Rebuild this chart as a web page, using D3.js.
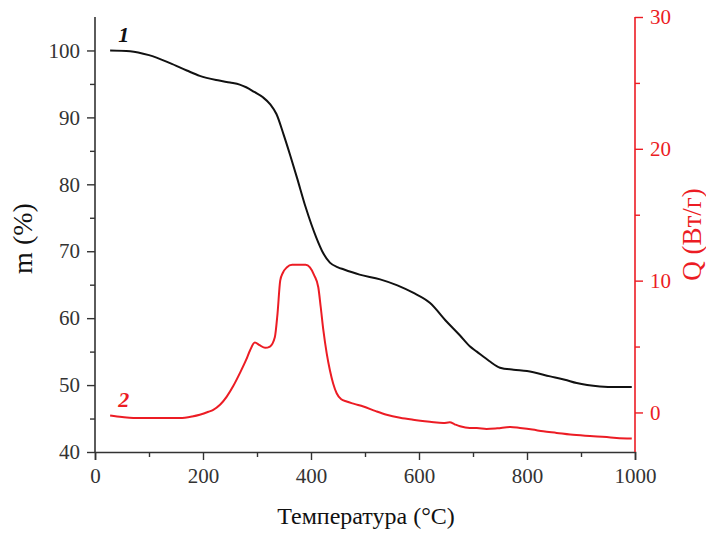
<!DOCTYPE html>
<html>
<head>
<meta charset="utf-8">
<script src="https://cdn.jsdelivr.net/npm/d3@7"></script>
<style>
  body { margin: 0; background: #fff; }
  text { font-family: "Liberation Serif", "Times New Roman", serif; }
</style>
</head>
<body>
<script>
// ---- data ----
var massT = [28, 65, 100, 139, 170, 194, 230, 250, 268, 280, 295, 311, 325, 336, 349, 362, 374, 390, 410, 422, 435, 450, 460, 490, 528, 560, 589, 620, 651, 676, 694, 707, 730, 750, 775, 800, 843, 870, 892, 935, 965, 994];
var massV = [100, 99.9, 99.3, 98.1, 97.0, 96.2, 95.5, 95.2, 94.9, 94.5, 93.8, 93.0, 91.9, 90.5, 87.5, 84.2, 81.0, 76.6, 72.0, 69.8, 68.3, 67.6, 67.3, 66.5, 65.8, 64.9, 63.8, 62.3, 59.5, 57.4, 55.8, 55.0, 53.6, 52.6, 52.3, 52.1, 51.3, 50.8, 50.3, 49.8, 49.7, 49.7];

var heatT = [28, 50, 71, 110, 157, 180, 194, 210, 219, 232, 244, 256, 268.5, 280, 287, 296, 305, 315, 324, 333, 338, 343, 348, 355, 365, 376.5, 390, 398, 406, 413.5, 418, 423, 429, 435, 441, 447.5, 456, 466, 480, 497, 520, 540, 565, 589, 620, 645, 657, 666, 676, 694, 707, 725, 745, 769, 787, 810, 830, 855, 880, 923, 966, 994];
var heatV = [-0.23, -0.35, -0.42, -0.42, -0.42, -0.3, -0.17, 0.05, 0.2, 0.6, 1.2, 2.0, 3.0, 4.0, 4.7, 5.3, 5.1, 4.9, 5.0, 5.7, 7.5, 10.0, 10.6, 11.0, 11.2, 11.2, 11.2, 11.0, 10.4, 9.5, 8.0, 6.2, 4.5, 3.2, 2.2, 1.46, 1.0, 0.83, 0.65, 0.45, 0.1, -0.17, -0.4, -0.55, -0.7, -0.8, -0.75, -0.9, -1.05, -1.18, -1.18, -1.25, -1.2, -1.1, -1.18, -1.3, -1.43, -1.55, -1.68, -1.8, -1.93, -1.98];

var xTicks = [0, 200, 400, 600, 800, 1000];
var xMinor = [100, 300, 500, 700, 900];
var mTicks = [40, 50, 60, 70, 80, 90, 100];
var mMinor = [45, 55, 65, 75, 85, 95];
var qTicks = [0, 10, 20, 30];
var qMinor = [5, 15, 25];

var red = "#ec1c24";
var axisCol = "#333";
var serif = "'Liberation Serif', 'Times New Roman', serif";

// ---- layout ----
var W = 706, H = 533;
var margin = {left: 95, right: 71, top: 17, bottom: 81};
var width = W - margin.left - margin.right,
    height = H - margin.top - margin.bottom;

var svg = d3.select("body").append("svg")
    .attr("width", W)
    .attr("height", H)
  .append("g")
    .attr("transform", "translate(" + margin.left + "," + margin.top + ")");

var x = d3.scaleLinear().domain([0, 1000]).range([0, width]);
var yM = d3.scaleLinear().domain([40, 105]).range([height, 0]);
var yQ = d3.scaleLinear().domain([-3, 30]).range([height, 0]);

function styleAxis(g, col) {
    g.attr("font-family", serif).attr("font-size", 21);
    g.select(".domain").attr("stroke", col).attr("stroke-width", 1.6);
    g.selectAll(".tick line").attr("stroke", col).attr("stroke-width", 1.4);
    g.selectAll(".tick text").attr("fill", col)
        .style("font-family", serif);
}

// bottom axis
var gx = svg.append("g")
    .attr("transform", "translate(0," + height + ")")
    .call(d3.axisBottom(x).tickValues(xTicks).tickSize(8).tickPadding(8).tickFormat(d3.format("d")));
styleAxis(gx, axisCol);
var gxm = svg.append("g")
    .attr("transform", "translate(0," + height + ")")
    .call(d3.axisBottom(x).tickValues(xMinor).tickSize(5).tickFormat(""));
gxm.select(".domain").remove();
styleAxis(gxm, axisCol);

// left axis
var gy = svg.append("g")
    .call(d3.axisLeft(yM).tickValues(mTicks).tickSize(8).tickPadding(7).tickSizeOuter(0));
styleAxis(gy, axisCol);
gy.select(".domain").attr("d", "M0," + height + "V0");
var gym = svg.append("g")
    .call(d3.axisLeft(yM).tickValues(mMinor).tickSize(5).tickFormat(""));
gym.select(".domain").remove();
styleAxis(gym, axisCol);

// right axis
var gq = svg.append("g")
    .attr("transform", "translate(" + width + ",0)")
    .call(d3.axisRight(yQ).tickValues(qTicks).tickSize(8).tickPadding(7).tickSizeOuter(0));
styleAxis(gq, red);
gq.select(".domain").attr("d", "M0," + height + "V0");
var gqm = svg.append("g")
    .attr("transform", "translate(" + width + ",0)")
    .call(d3.axisRight(yQ).tickValues(qMinor).tickSize(5).tickFormat(""));
gqm.select(".domain").remove();
styleAxis(gqm, red);

// lines
var massLine = d3.line()
    .x(function(d, i) { return x(massT[i]); })
    .y(function(d) { return yM(d); })
    .curve(d3.curveMonotoneX);
var heatLine = d3.line()
    .x(function(d, i) { return x(heatT[i]); })
    .y(function(d) { return yQ(d); })
    .curve(d3.curveMonotoneX);

svg.append("path")
    .attr("d", massLine(massV))
    .attr("fill", "none")
    .attr("stroke", "#111")
    .attr("stroke-width", 2);

svg.append("path")
    .attr("d", heatLine(heatV))
    .attr("fill", "none")
    .attr("stroke", red)
    .attr("stroke-width", 2);

// curve labels
svg.append("text")
    .attr("x", x(43)).attr("y", yM(101.3))
    .attr("font-size", 22).attr("font-weight", "bold").attr("font-style", "italic")
    .attr("fill", "#111")
    .text("1");
svg.append("text")
    .attr("x", x(43)).attr("y", yQ(0.4))
    .attr("font-size", 22).attr("font-weight", "bold").attr("font-style", "italic")
    .attr("fill", red)
    .text("2");

// axis titles
svg.append("text")
    .attr("transform", "translate(" + (-63) + "," + (height / 2 + 4) + ") rotate(-90)")
    .attr("text-anchor", "middle")
    .attr("font-size", 28)
    .attr("fill", "#111")
    .text("m (%)");

svg.append("text")
    .attr("transform", "translate(" + (width + 66) + "," + (height / 2) + ") rotate(-90)")
    .attr("text-anchor", "middle")
    .attr("font-size", 27)
    .attr("fill", red)
    .text("Q (Вт/г)");

svg.append("text")
    .attr("x", width / 2 + 1)
    .attr("y", height + 72)
    .attr("text-anchor", "middle")
    .attr("font-size", 24)
    .attr("fill", "#111")
    .text("Температура (°C)");
</script>
</body>
</html>
